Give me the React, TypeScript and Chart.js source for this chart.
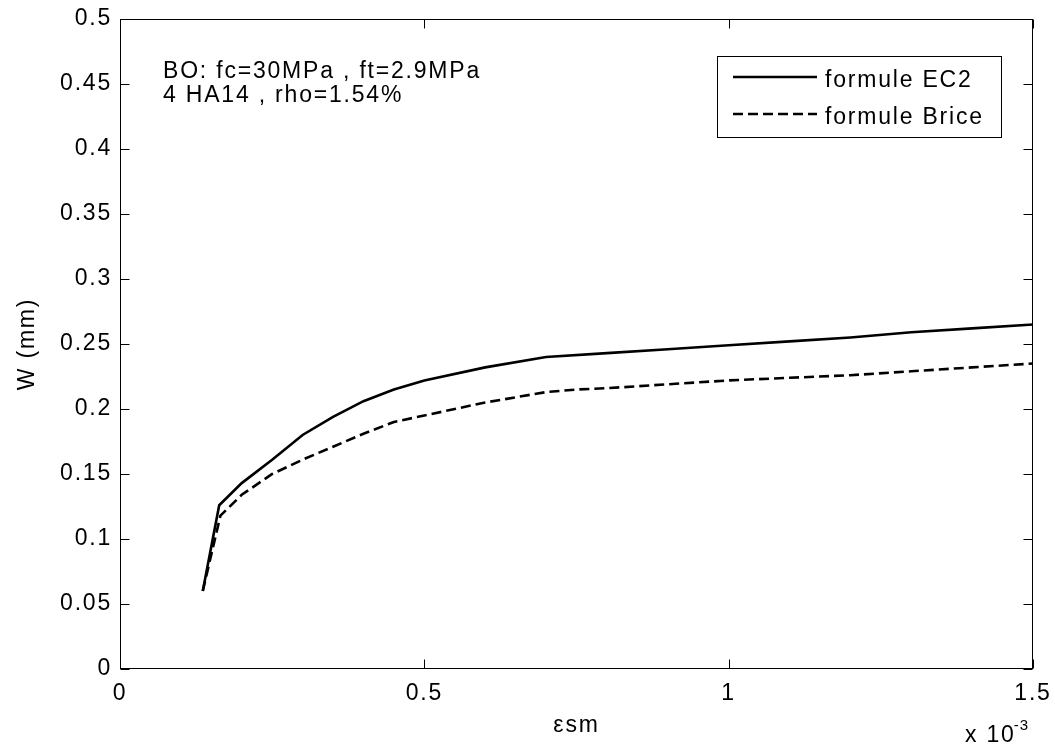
import React, { useEffect, useRef } from 'react';
import { Chart, registerables } from 'chart.js';

Chart.register(...registerables);

// strain values are in units of 10^-3 (axis shows "x 10^-3")
const strainEC2 = [0.136, 0.163, 0.2, 0.25, 0.3, 0.35, 0.4, 0.45, 0.5, 0.6, 0.7, 0.8, 0.9, 1.0, 1.1, 1.2, 1.3, 1.4, 1.5];
const wEC2 = [0.06, 0.126, 0.143, 0.161, 0.18, 0.194, 0.206, 0.215, 0.222, 0.232, 0.24, 0.243, 0.246, 0.249, 0.252, 0.255, 0.259, 0.262, 0.265];

const strainBrice = [0.136, 0.165, 0.2, 0.25, 0.3, 0.35, 0.4, 0.45, 0.5, 0.6, 0.7, 0.75, 0.8, 0.9, 1.0, 1.1, 1.2, 1.3, 1.4, 1.5];
const wBrice = [0.06, 0.118, 0.134, 0.15, 0.161, 0.171, 0.181, 0.19, 0.195, 0.205, 0.213, 0.215, 0.216, 0.219, 0.222, 0.224, 0.226, 0.229, 0.232, 0.235];

const seriesLabels = ['formule EC2', 'formule Brice'];
const annotationLines = ['BO: fc=30MPa , ft=2.9MPa', '4 HA14 , rho=1.54%'];
const xAxisTitle = 'εsm';
const yAxisTitle = 'W (mm)';
const xExponentBase = 'x 10';
const xExponent = '-3';

const X_MIN = 0, X_MAX = 1.5, X_STEP = 0.5;
const Y_MIN = 0, Y_MAX = 0.5, Y_STEP = 0.05;

const FONT = "'Liberation Sans', Arial, Helvetica, sans-serif";
const FS = 23;
const SPACING = '1.8px';

const matlabPlugin = {
  id: 'matlabDecor',
  beforeDraw(chart: any) {
    chart.ctx.letterSpacing = SPACING;
  },
  afterDatasetsDraw(chart: any) {
    const ctx = chart.ctx;
    const { left, right, top, bottom } = chart.chartArea;
    const xs = chart.scales.x;
    const ys = chart.scales.y;
    ctx.save();
    ctx.strokeStyle = '#000';
    ctx.lineWidth = 1;
    ctx.setLineDash([]);
    const L = Math.round(left) + 0.5, R = Math.round(right) - 0.5;
    const T = Math.round(top) + 0.5, B = Math.round(bottom) - 0.5;
    ctx.strokeRect(L, T, R - L, B - T);
    const tl = 9;
    ctx.beginPath();
    xs.ticks.forEach((t: any) => {
      const px = Math.round(xs.getPixelForValue(t.value)) + 0.5;
      ctx.moveTo(px, B); ctx.lineTo(px, B - tl);
      ctx.moveTo(px, T); ctx.lineTo(px, T + tl);
    });
    ys.ticks.forEach((t: any) => {
      const py = Math.round(ys.getPixelForValue(t.value)) + 0.5;
      ctx.moveTo(L, py); ctx.lineTo(L + tl, py);
      ctx.moveTo(R, py); ctx.lineTo(R - tl, py);
    });
    ctx.stroke();

    // annotation text
    ctx.fillStyle = '#000';
    ctx.font = `${FS}px ${FONT}`;
    ctx.letterSpacing = SPACING;
    ctx.textAlign = 'left';
    ctx.textBaseline = 'alphabetic';
    annotationLines.forEach((s, i) => ctx.fillText(s, 163, 78 + i * 24));

    // legend
    const lx = 717.5, ly = 56.5, lw = 284, lh = 81;
    ctx.fillStyle = '#fff';
    ctx.fillRect(lx, ly, lw, lh);
    ctx.strokeStyle = '#000';
    ctx.lineWidth = 1;
    ctx.strokeRect(lx, ly, lw, lh);
    const rows = [77, 114];
    chart.data.datasets.forEach((ds: any, i: number) => {
      ctx.beginPath();
      ctx.lineWidth = ds.borderWidth;
      ctx.strokeStyle = ds.borderColor;
      ctx.setLineDash(ds.borderDash || []);
      ctx.moveTo(733, rows[i]);
      ctx.lineTo(817, rows[i]);
      ctx.stroke();
      ctx.setLineDash([]);
      ctx.fillStyle = '#000';
      ctx.fillText(ds.label, 825, rows[i] + 10);
    });

    // x 10^-3
    ctx.font = `${FS}px ${FONT}`;
    ctx.fillText(xExponentBase, 965, 742);
    const w = ctx.measureText(xExponentBase).width;
    ctx.font = `15px ${FONT}`;
    ctx.letterSpacing = '1px';
    ctx.fillText(xExponent, 965 + w - 2, 730);
    ctx.restore();
  },
};

export default function App() {
  const ref = useRef<HTMLCanvasElement | null>(null);
  useEffect(() => {
    document.body.style.margin = '0';
    const canvas = ref.current;
    if (!canvas) return;
    Chart.defaults.font.family = FONT;
    const chart = new Chart(canvas, {
      type: 'line',
      data: {
        datasets: [
          {
            label: seriesLabels[0],
            data: strainEC2.map((x, i) => ({ x, y: wEC2[i] })),
            borderColor: '#000',
            borderWidth: 2.6,
            pointRadius: 0,
            tension: 0,
            fill: false,
          },
          {
            label: seriesLabels[1],
            data: strainBrice.map((x, i) => ({ x, y: wBrice[i] })),
            borderColor: '#000',
            borderWidth: 2.6,
            borderDash: [10, 5],
            pointRadius: 0,
            tension: 0,
            fill: false,
          },
        ],
      },
      options: {
        responsive: false,
        animation: false,
        layout: { padding: { top: 19, right: 22, left: 0, bottom: 0 } },
        plugins: { legend: { display: false }, tooltip: { enabled: false } },
        scales: {
          x: {
            type: 'linear',
            min: X_MIN,
            max: X_MAX,
            grid: { display: false, drawTicks: false },
            border: { display: false },
            ticks: {
              stepSize: X_STEP,
              color: '#000',
              font: { size: FS },
              padding: 11,
              maxRotation: 0,
              callback: (v: any) => String(Math.round(Number(v) * 100) / 100),
            },
            title: {
              display: true,
              text: xAxisTitle,
              color: '#000',
              font: { size: FS },
              padding: { top: 0, bottom: 12 },
            },
            afterFit: (s: any) => { s.height = 82; s.paddingLeft = 0; s.paddingRight = 0; },
          },
          y: {
            type: 'linear',
            min: Y_MIN,
            max: Y_MAX,
            grid: { display: false, drawTicks: false },
            border: { display: false },
            ticks: {
              stepSize: Y_STEP,
              color: '#000',
              font: { size: FS },
              padding: 8,
              callback: (v: any) => String(Math.round(Number(v) * 100) / 100),
            },
            title: {
              display: true,
              text: yAxisTitle,
              color: '#000',
              font: { size: FS },
              padding: { top: 14, bottom: 0 },
            },
            afterFit: (s: any) => { s.width = 120; s.paddingTop = 0; s.paddingBottom = 0; },
          },
        },
      },
      plugins: [matlabPlugin],
    } as any);
    return () => chart.destroy();
  }, []);
  return (
    <div style={{ position: 'absolute', left: 0, top: 0, width: 1055, height: 751, background: '#fff' }}>
      <canvas ref={ref} width={1055} height={751} />
    </div>
  );
}
